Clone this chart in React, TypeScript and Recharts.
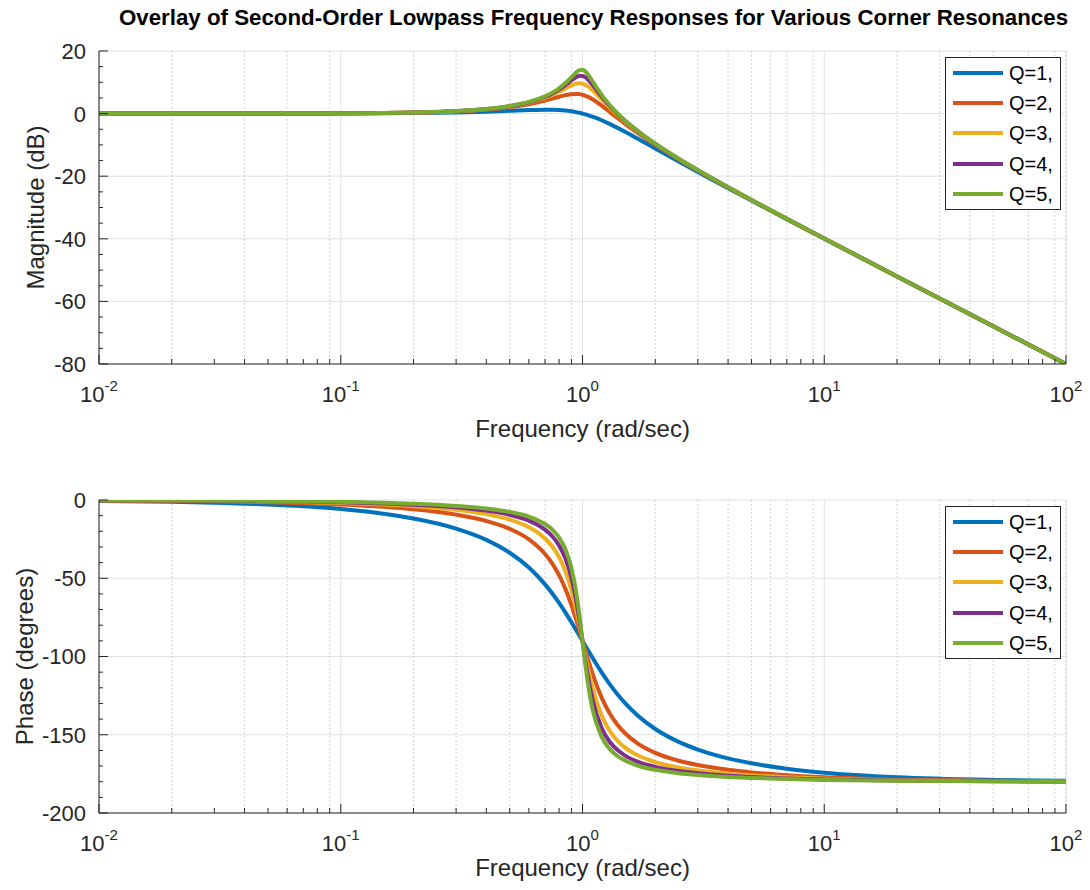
import React from 'react';
import { LineChart, Line, XAxis, YAxis, CartesianGrid, Legend } from 'recharts';

const FREQ = [0.01, 0.02, 0.03, 0.05, 0.07, 0.1, 0.15, 0.2, 0.3, 0.4, 0.5, 0.6, 0.7, 0.75, 0.8, 0.85, 0.9, 0.95, 0.97, 1, 1.03, 1.05, 1.1, 1.2, 1.3, 1.4, 1.5, 1.7, 2, 2.5, 3, 4, 5, 7, 10, 20, 50, 100];

const MAG_Q1 = [0.0, 0.0, 0.0, 0.01, 0.02, 0.04, 0.1, 0.17, 0.37, 0.63, 0.9, 1.14, 1.25, 1.23, 1.14, 0.97, 0.73, 0.4, 0.25, 0.0, -0.27, -0.47, -0.98, -2.13, -3.36, -4.6, -5.81, -8.1, -11.14, -15.29, -18.63, -23.82, -27.79, -33.72, -39.96, -52.03, -67.96, -80.0];
const MAG_Q2 = [0.0, 0.0, 0.01, 0.02, 0.04, 0.08, 0.17, 0.31, 0.7, 1.28, 2.04, 3.01, 4.17, 4.79, 5.38, 5.89, 6.22, 6.29, 6.22, 6.02, 5.7, 5.44, 4.6, 2.57, 0.46, -1.5, -3.27, -6.33, -10.0, -14.64, -18.21, -23.6, -27.65, -33.65, -39.92, -52.02, -67.96, -80.0];
const MAG_Q3 = [0.0, 0.0, 0.01, 0.02, 0.04, 0.08, 0.19, 0.33, 0.77, 1.41, 2.29, 3.47, 5.02, 5.95, 6.97, 8.03, 8.99, 9.59, 9.66, 9.54, 9.15, 8.76, 7.48, 4.52, 1.78, -0.57, -2.58, -5.9, -9.75, -14.51, -18.13, -23.56, -27.63, -33.64, -39.92, -52.02, -67.96, -80.0];
const MAG_Q4 = [0.0, 0.0, 0.01, 0.02, 0.04, 0.08, 0.19, 0.34, 0.79, 1.45, 2.38, 3.64, 5.37, 6.45, 7.71, 9.13, 10.62, 11.81, 12.06, 12.04, 11.55, 11.0, 9.22, 5.47, 2.35, -0.19, -2.31, -5.74, -9.66, -14.46, -18.1, -23.54, -27.62, -33.63, -39.92, -52.02, -67.96, -80.0];
const MAG_Q5 = [0.0, 0.0, 0.01, 0.02, 0.04, 0.09, 0.19, 0.35, 0.8, 1.48, 2.42, 3.73, 5.53, 6.7, 8.09, 9.75, 11.64, 13.41, 13.86, 13.98, 13.36, 12.63, 10.34, 6.0, 2.65, 0.0, -2.18, -5.67, -9.62, -14.44, -18.09, -23.53, -27.61, -33.63, -39.91, -52.02, -67.96, -80.0];

const PH_Q1 = [-0.57, -1.15, -1.72, -2.87, -4.02, -5.77, -8.72, -11.77, -18.25, -25.46, -33.69, -43.15, -53.92, -59.74, -65.77, -71.92, -78.08, -84.14, -86.51, -90, -93.38, -95.58, -100.81, -110.14, -117.96, -124.44, -129.81, -138.03, -146.31, -154.54, -159.44, -165.07, -168.23, -171.7, -174.23, -177.13, -178.85, -179.43];
const PH_Q2 = [-0.29, -0.57, -0.86, -1.44, -2.01, -2.89, -4.39, -5.95, -9.36, -13.39, -18.43, -25.11, -34.46, -40.6, -48.01, -56.86, -67.11, -78.4, -83.05, -90, -96.74, -101.05, -110.9, -126.25, -136.71, -143.91, -149.04, -155.79, -161.57, -166.61, -169.38, -172.41, -174.05, -175.83, -177.11, -178.56, -179.43, -179.71];
const PH_Q3 = [-0.19, -0.38, -0.57, -0.96, -1.34, -1.93, -2.93, -3.97, -6.27, -9.02, -12.53, -17.35, -24.59, -29.74, -36.53, -45.6, -57.66, -72.89, -79.64, -90, -100.06, -106.32, -119.8, -137.73, -147.87, -154.08, -158.2, -163.31, -167.47, -170.98, -172.88, -174.92, -176.03, -177.22, -178.07, -179.04, -179.62, -179.81];
const PH_Q4 = [-0.14, -0.29, -0.43, -0.72, -1.01, -1.45, -2.2, -2.98, -4.71, -6.79, -9.46, -13.19, -18.93, -23.2, -29.05, -37.45, -49.82, -67.68, -76.3, -90, -103.31, -111.33, -127.37, -145.71, -154.78, -159.97, -163.3, -167.33, -170.54, -173.21, -174.64, -176.19, -177.02, -177.91, -178.55, -179.28, -179.71, -179.86];
const PH_Q5 = [-0.11, -0.23, -0.34, -0.57, -0.81, -1.16, -1.76, -2.39, -3.77, -5.44, -7.59, -10.62, -15.35, -18.92, -23.96, -31.49, -43.45, -62.83, -73.06, -90, -106.47, -116.02, -133.67, -151.39, -159.35, -163.74, -166.5, -169.8, -172.41, -174.56, -175.71, -176.95, -177.61, -178.33, -178.84, -179.43, -179.77, -179.89];

const SERIES_NAMES = ['Q=1,', 'Q=2,', 'Q=3,', 'Q=4,', 'Q=5,'];
const SERIES_KEYS = ['q1', 'q2', 'q3', 'q4', 'q5'];
const COLORS = ['#0072BD', '#D95319', '#EDB120', '#7E2F8E', '#77AC30'];

const X_MAJOR = [0.01, 0.1, 1, 10, 100];
const X_MINOR_MULT = [2, 3, 4, 5, 6, 7, 8, 9];

const MAG_Y_MAJOR = [-80, -60, -40, -20, 0, 20];
const MAG_Y_MINOR = [-75, -70, -65, -55, -50, -45, -35, -30, -25, -15, -10, -5, 5, 10, 15];
const PH_Y_MAJOR = [-200, -150, -100, -50, 0];
const PH_Y_MINOR = [-190, -180, -170, -160, -140, -130, -120, -110, -90, -80, -70, -60, -40, -30, -20, -10];

const TITLE = 'Overlay of Second-Order Lowpass Frequency Responses for Various Corner Resonances';
const X_LABEL = 'Frequency (rad/sec)';

const X_MINOR: number[] = [];
X_MAJOR.slice(0, -1).forEach((d) => X_MINOR_MULT.forEach((m) => X_MINOR.push(+(d * m).toPrecision(6))));
const X_ALL = [...X_MAJOR, ...X_MINOR].sort((a, b) => a - b);

const build = (arrs: number[][]) =>
  FREQ.map((w, i) => {
    const row: any = { w };
    SERIES_KEYS.forEach((k, j) => (row[k] = arrs[j][i]));
    return row;
  });

const MAG_DATA = build([MAG_Q1, MAG_Q2, MAG_Q3, MAG_Q4, MAG_Q5]);
const PH_DATA = build([PH_Q1, PH_Q2, PH_Q3, PH_Q4, PH_Q5]);

const FONT = '"Liberation Sans", Arial, Helvetica, sans-serif';
const INK = '#262626';
const TM = 8;
const isMajorX = (v: number) => X_MAJOR.some((m) => Math.abs(m - v) / m < 1e-6);

const XTickBottom = (props: any) => {
  const { x, y, payload } = props;
  const v = payload.value;
  const major = isMajorX(v);
  const ay = y - TM;
  const exp = Math.round(Math.log10(v));
  return (
    <g>
      <line x1={x} x2={x} y1={ay} y2={ay - (major ? 9 : 5)} stroke={INK} strokeWidth={1} />
      {major && (
        <text x={x} y={ay + 38} textAnchor="middle" fontSize={22} fill={INK} fontFamily={FONT}>
          10<tspan dy={-11} fontSize={15}>{exp}</tspan>
        </text>
      )}
    </g>
  );
};

const XTickTop = (props: any) => {
  const { x, y, payload } = props;
  const major = isMajorX(payload.value);
  const ay = y + TM;
  return <line x1={x} x2={x} y1={ay} y2={ay + (major ? 9 : 5)} stroke={INK} strokeWidth={1} />;
};

const makeYTickLeft = (majors: number[]) => (props: any) => {
  const { x, y, payload } = props;
  const major = majors.includes(payload.value);
  const ax = x + TM;
  return (
    <g>
      <line x1={ax} x2={ax + (major ? 9 : 4)} y1={y} y2={y} stroke={INK} strokeWidth={1} />
      {major && (
        <text x={ax - 13} y={y} dy="0.36em" textAnchor="end" fontSize={22} fill={INK} fontFamily={FONT}>
          {payload.value}
        </text>
      )}
    </g>
  );
};

const makeYTickRight = (majors: number[]) => (props: any) => {
  const { x, y, payload } = props;
  const major = majors.includes(payload.value);
  const ax = x - TM;
  return <line x1={ax} x2={ax - (major ? 9 : 4)} y1={y} y2={y} stroke={INK} strokeWidth={1} />;
};

const makeYLabel = (text: string, dx: number) => (props: any) => {
  const vb = props.viewBox || {};
  const cx = (vb.x || 0) + dx;
  const cy = (vb.y || 0) + (vb.height || 0) / 2;
  return (
    <text x={cx} y={cy} transform={`rotate(-90 ${cx} ${cy})`} textAnchor="middle" dy="0.36em" fontSize={24} fill={INK} fontFamily={FONT}>
      {text}
    </text>
  );
};

const makeXLabel = (text: string, dy: number) => (props: any) => {
  const vb = props.viewBox || {};
  const cx = (vb.x || 0) + (vb.width || 0) / 2;
  const cy = (vb.y || 0) + dy;
  return (
    <text x={cx} y={cy} textAnchor="middle" dy="0.36em" fontSize={24} fill={INK} fontFamily={FONT}>
      {text}
    </text>
  );
};

const LegendBox = (props: any) => {
  const payload = props.payload || [];
  return (
    <div style={{ border: `1px solid ${INK}`, background: '#fff', width: 116, boxSizing: 'border-box', fontFamily: FONT }}>
      {payload.map((p: any, i: number) => (
        <div key={i} style={{ display: 'flex', alignItems: 'center', height: 30.2 }}>
          <span style={{ display: 'inline-block', width: 50, height: 4, background: p.color, marginLeft: 7 }} />
          <span style={{ marginLeft: 6, fontSize: 20, color: '#000', lineHeight: '20px' }}>{p.value}</span>
        </div>
      ))}
    </div>
  );
};

type PanelProps = {
  data: any[];
  yDomain: [number, number];
  yMajor: number[];
  yMinor: number[];
  yLabel: string;
  yLabelDx: number;
  xLabelDy: number;
};

const Panel = ({ data, yDomain, yMajor, yMinor, yLabel, yLabelDx, xLabelDy }: PanelProps) => {
  const yAll = [...yMajor, ...yMinor].sort((a, b) => a - b);
  const xCommon = {
    dataKey: 'w',
    type: 'number' as const,
    scale: 'log' as const,
    domain: [0.01, 100],
    allowDataOverflow: true,
  };
  const yCommon = { type: 'number' as const, domain: yDomain, allowDataOverflow: true };
  return (
    <LineChart width={1090} height={445} data={data} margin={{ top: 51, right: 24, bottom: 1, left: 0 }}>
      <XAxis
        xAxisId="b"
        {...xCommon}
        ticks={X_ALL}
        interval={0}
        height={80}
        tickLine={false}
        tickSize={0}
        tickMargin={TM}
        tick={<XTickBottom />}
        axisLine={{ stroke: INK, strokeWidth: 1 }}
        label={makeXLabel(X_LABEL, xLabelDy)}
      />
      <XAxis
        xAxisId="t"
        orientation="top"
        {...xCommon}
        ticks={X_ALL}
        interval={0}
        height={0}
        tickLine={false}
        tickSize={0}
        tickMargin={TM}
        tick={<XTickTop />}
        axisLine={{ stroke: INK, strokeWidth: 1 }}
      />
      <YAxis
        yAxisId="l"
        {...yCommon}
        ticks={yAll}
        interval={0}
        width={99}
        tickLine={false}
        tickSize={0}
        tickMargin={TM}
        tick={makeYTickLeft(yMajor)}
        axisLine={{ stroke: INK, strokeWidth: 1 }}
        label={makeYLabel(yLabel, yLabelDx)}
      />
      <YAxis
        yAxisId="r"
        orientation="right"
        {...yCommon}
        ticks={yAll}
        interval={0}
        width={0}
        tickLine={false}
        tickSize={0}
        tickMargin={TM}
        tick={makeYTickRight(yMajor)}
        axisLine={{ stroke: INK, strokeWidth: 1 }}
      />
      <XAxis xAxisId="gmaj" {...xCommon} ticks={X_MAJOR} hide height={0} />
      <XAxis xAxisId="gmin" {...xCommon} ticks={X_MINOR} hide height={0} />
      <YAxis yAxisId="gy" orientation="right" {...yCommon} ticks={yMajor} hide width={0} />
      <CartesianGrid xAxisId="gmaj" yAxisId="gy" stroke="#e2e2e2" strokeWidth={1} />
      <CartesianGrid xAxisId="gmin" yAxisId="gy" horizontal={false} stroke="#c4c4c4" strokeWidth={1} strokeDasharray="1.5 2.5" />
      {SERIES_KEYS.map((k, i) => (
        <Line
          key={k}
          xAxisId="b"
          yAxisId="l"
          dataKey={k}
          name={SERIES_NAMES[i]}
          stroke={COLORS[i]}
          strokeWidth={4}
          type="monotone"
          dot={false}
          activeDot={false}
          isAnimationActive={false}
        />
      ))}
      <Legend
        layout="vertical"
        align="center"
        verticalAlign="middle"
        content={<LegendBox />}
        wrapperStyle={{ left: 945, top: 57, width: 116, height: 'auto' }}
      />
    </LineChart>
  );
};

export default function App() {
  return (
    <div style={{ position: 'absolute', left: 0, top: 0, width: 1090, height: 890, background: '#fff', fontFamily: FONT }}>
      <div
        style={{
          position: 'absolute',
          left: 110,
          width: 967,
          top: 5,
          textAlign: 'center',
          fontWeight: 'bold',
          fontSize: 22.3,
          color: '#000',
          whiteSpace: 'nowrap',
        }}
      >
        {TITLE}
      </div>
      <div style={{ position: 'absolute', left: 0, top: 0 }}>
        <Panel data={MAG_DATA} yDomain={[-80, 20]} yMajor={MAG_Y_MAJOR} yMinor={MAG_Y_MINOR} yLabel="Magnitude (dB)" yLabelDx={35} xLabelDy={64} />
      </div>
      <div style={{ position: 'absolute', left: 0, top: 449 }}>
        <Panel data={PH_DATA} yDomain={[-200, 0]} yMajor={PH_Y_MAJOR} yMinor={PH_Y_MINOR} yLabel="Phase (degrees)" yLabelDx={24} xLabelDy={54} />
      </div>
    </div>
  );
}
